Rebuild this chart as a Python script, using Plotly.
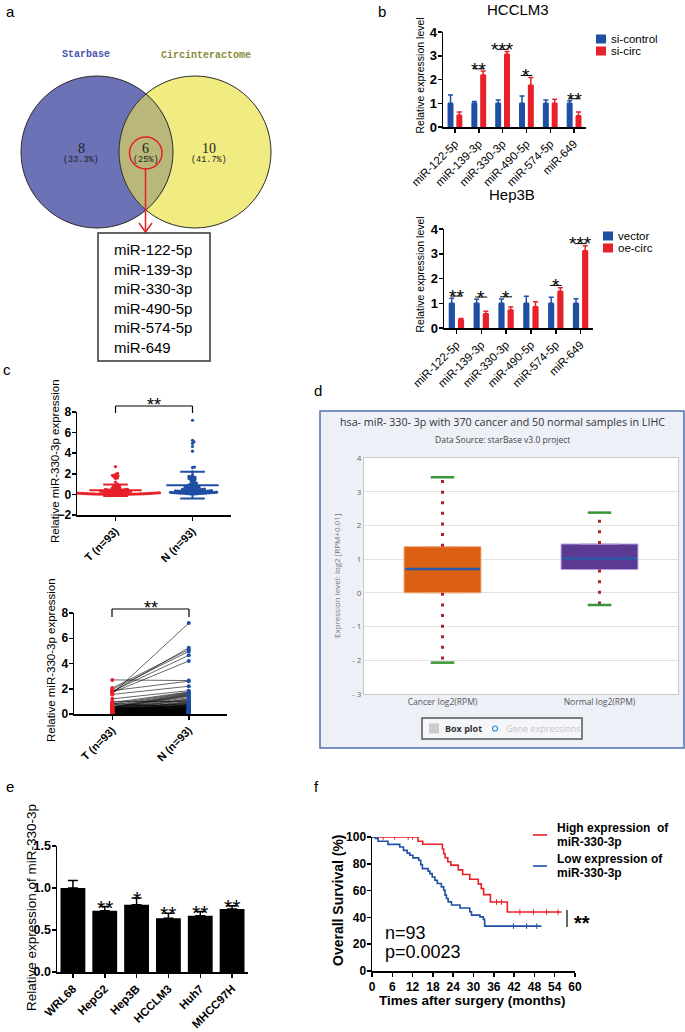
import numpy as np
import plotly.graph_objects as go

W, H = 685, 1032
ARIAL = "Liberation Sans, Arial, sans-serif"
SERIF = "Liberation Serif, Times New Roman, serif"
MONO = "Liberation Mono, Courier New, monospace"
OPEN = "Open Sans, DejaVu Sans, sans-serif"
BLUE = "#1f4fa3"
RED = "#e8202a"

# ---------------- data ----------------
venn_names = ["Starbase", "Circinteractome"]
venn_counts = [8, 6, 10]  # Starbase only, shared, Circinteractome only
overlap_mirs = ["miR-122-5p", "miR-139-3p", "miR-330-3p",
                "miR-490-5p", "miR-574-5p", "miR-649"]

hcclm3_groups = ["si-control", "si-circ"]
hcclm3_ctrl = [1.0, 1.0, 1.0, 1.0, 1.0, 1.0]
hcclm3_ctrl_err = [0.35, 0.07, 0.14, 0.30, 0.14, 0.10]
hcclm3_circ = [0.49, 2.19, 3.06, 1.76, 1.00, 0.47]
hcclm3_circ_err = [0.14, 0.17, 0.12, 0.32, 0.17, 0.16]
hcclm3_sig = ["", "**", "***", "*", "", "**"]

hep3b_groups = ["vector", "oe-circ"]
hep3b_vec = [1.0, 1.0, 1.0, 1.0, 1.0, 1.0]
hep3b_vec_err = [0.20, 0.16, 0.17, 0.28, 0.24, 0.18]
hep3b_oe = [0.35, 0.58, 0.73, 0.86, 1.48, 3.12]
hep3b_oe_err = [0.03, 0.10, 0.12, 0.20, 0.15, 0.20]
hep3b_sig = ["**", "*", "*", "", "*", "***"]

tn_labels = ["T (n=93)", "N (n=93)"]
T_expr = [2.7, 2.05, 1.95, 1.85, 1.8, 1.75, 1.7, 1.6, 1.55,
          1.2, 1.0, 0.9, 0.85, 0.8, 0.75, 0.7,
          0.6, 0.58, 0.55, 0.55, 0.52, 0.5, 0.5, 0.48, 0.45, 0.45, 0.42, 0.4, 0.4, 0.38, 0.36, 0.35, 0.34, 0.32, 0.3, 0.3,
          0.28, 0.27, 0.26, 0.25, 0.25, 0.24, 0.22, 0.21, 0.2, 0.2, 0.19, 0.18, 0.17, 0.16, 0.15, 0.15, 0.14, 0.13, 0.12, 0.12,
          0.11, 0.1, 0.1, 0.09, 0.09, 0.08, 0.08, 0.07, 0.07, 0.06, 0.06, 0.06, 0.05, 0.05, 0.05, 0.04, 0.04, 0.04, 0.03, 0.03,
          0.03, 0.03, 0.02, 0.02, 0.02, 0.02, 0.02, 0.01, 0.01, 0.01, 0.01, 0.01, 0.01, 0.01, 0.01, 0.01, 0.01]
N_expr = [2.65, 5.1, 4.95, 2.6, 4.65, 5.25, 4.2, 7.2, 2.2,
          1.85, 1.0, 1.75, 0.5, 1.7, 0.3, 1.65,
          1.6, 0.8, 1.55, 0.2, 1.5, 0.45, 1.45, 0.1, 1.4, 0.62, 1.3, 0.25, 1.2, 0.38,
          1.15, 0.72, 1.1, 0.15, 1.0, 0.55, 0.95, 0.28, 0.9, 0.4, 0.85, 0.12,
          0.78, 0.75, 0.7, 0.68, 0.65, 0.6, 0.58, 0.52, 0.5, 0.48, 0.46, 0.44, 0.42, 0.4,
          0.37, 0.36, 0.35, 0.34, 0.33, 0.32, 0.31, 0.3, 0.29, 0.27, 0.26, 0.25, 0.24, 0.23,
          0.22, 0.22, 0.21, 0.2, 0.19, 0.18, 0.18, 0.17, 0.16, 0.15, 0.14, 0.13, 0.12, 0.11,
          0.1, 0.09, 0.08, 0.08, 0.07, 0.06, 0.05, 0.04, 0.03]

tcga_title = "hsa- miR- 330- 3p with 370 cancer and 50 normal samples in LIHC"
tcga_source = "Data Source: starBase v3.0 project"
tcga_groups = ["Cancer log2(RPM)", "Normal log2(RPM)"]
tcga_q1 = [0.0, 0.69]
tcga_med = [0.71, 1.02]
tcga_q3 = [1.37, 1.45]
tcga_lo = [-2.07, -0.36]
tcga_hi = [3.43, 2.38]
tcga_fill = ["#dc6013", "#5b3a94"]
tcga_edge = ["#f0a878", "#b9a5dc"]
tcga_yticks = [-3, -2, -1, 0, 1, 2, 3, 4]
tcga_yticktext = ["- 3", "- 2", "- 1", "0", "1", "2", "3", "4"]

cell_lines = ["WRL68", "HepG2", "Hep3B", "HCCLM3", "Huh7", "MHCC97H"]
cell_expr = [1.0, 0.73, 0.80, 0.64, 0.67, 0.75]
cell_err = [0.09, 0.05, 0.08, 0.06, 0.05, 0.04]
cell_sig = ["", "**", "*", "**", "**", "**"]

km_high_t = [0, 13.6, 15.0, 20.8, 21.2, 21.6, 22.4, 23.3, 25.5, 26.8, 28.9, 31.4, 32.3, 33.0, 35.0, 40.0, 56.0]
km_high_s = [100, 96.8, 94.6, 91.0, 87.5, 84.5, 81.5, 79.0, 75.5, 72.0, 68.5, 65.0, 61.5, 57.0, 51.5, 44.0, 44.0]
km_high_cens = [1.8, 3.3, 6.7, 10.7, 12.0, 36.8, 38.3, 43.7, 47.7, 51.6, 55.0]
km_low_t = [0, 1.0, 1.8, 4.7, 8.2, 9.3, 10.4, 11.2, 12.1, 13.8, 14.4, 14.9, 16.6, 17.1, 17.8, 18.6, 19.3, 20.5,
            21.2, 21.6, 22.0, 22.5, 23.5, 26.0, 28.9, 29.4, 31.9, 32.9, 33.3, 50.1]
km_low_s = [100, 99.0, 96.8, 94.5, 92.5, 90.0, 88.0, 86.4, 84.4, 82.6, 79.4, 76.4, 74.5, 72.7, 70.2, 67.7, 65.3, 62.8,
            60.3, 56.6, 54.1, 51.6, 49.2, 47.0, 44.2, 41.7, 40.4, 38.5, 33.5, 33.5]
km_low_cens = [41.8, 45.7, 48.7]
km_labels = ["High expression  of<br>miR-330-3p", "Low expression of<br>miR-330-3p"]
km_n = 93
km_p = "0.0023"

# ---------------- helpers ----------------
fig = go.Figure()
ann, shp, axes = [], [], {}


def txt(x, y, s, size=12, color="black", weight="normal", family=ARIAL, xa="center", ya="middle",
        angle=0, align="center", xref="paper", yref="paper", yshift=0):
    if xref == "paper":
        x = x / W
    if yref == "paper":
        y = 1 - y / H
    ann.append(dict(x=x, y=y, xref=xref, yref=yref, text=s, showarrow=False,
                    font=dict(family=family, size=size, color=color, weight=weight),
                    xanchor=xa, yanchor=ya, textangle=angle, align=align, yshift=yshift))


def star(x, y, s, size, xref="paper", yref="paper"):
    # place glyph bottom at y
    txt(x, y, s, size=size, ya="bottom", xref=xref, yref=yref, yshift=-(0.62 * size + 1))


def pline(x0, y0, x1, y1, color="black", width=1.2):
    shp.append(dict(type="line", xref="paper", yref="paper", x0=x0 / W, x1=x1 / W,
                    y0=1 - y0 / H, y1=1 - y1 / H, line=dict(color=color, width=width)))


def prect(x0, y0, x1, y1, fill, line_color=None, lw=0, layer="above"):
    shp.append(dict(type="rect", xref="paper", yref="paper", x0=x0 / W, x1=x1 / W,
                    y0=1 - y1 / H, y1=1 - y0 / H, fillcolor=fill, layer=layer,
                    line=dict(color=line_color or fill, width=lw)))


def add_axes(n, xpx, ypx, xkw, ykw):
    sx = "" if n == 1 else str(n)
    axes["xaxis" + sx] = dict(domain=[xpx[0] / W, xpx[1] / W], anchor="y" + sx, automargin=False, **xkw)
    axes["yaxis" + sx] = dict(domain=[1 - ypx[1] / H, 1 - ypx[0] / H], anchor="x" + sx, automargin=False, **ykw)


def gp(**kw):
    d = dict(showline=True, linecolor="black", linewidth=1.5, ticks="outside", ticklen=4,
             tickwidth=1.5, tickcolor="black", showgrid=False, zeroline=False, fixedrange=True,
             tickfont=dict(family=ARIAL, size=12, color="black", weight="bold"))
    d.update(kw)
    return d


def swarm(vals, ppy, ppx, dmin=2.2, step=0.5):
    vals = np.asarray(vals, float)
    order = np.argsort(vals, kind="stable")
    placed = []
    off = np.zeros(len(vals))
    for i in order:
        y = vals[i] * ppy
        k = 0
        while True:
            m = (k + 1) // 2
            x = m * step * (1 if k % 2 else -1)
            ok = True
            for (qx, qy) in placed:
                dy = abs(qy - y)
                if dy < dmin and abs(qx - x) < np.sqrt(dmin ** 2 - dy ** 2):
                    ok = False
                    break
            if ok:
                break
            k += 1
        placed.append((x, y))
        off[i] = x / ppx
    return off


# ---------------- panel labels ----------------
for lab, (lx, ly) in zip("abcdef", [(10, 11), (382, 11), (7, 370), (318, 390), (10, 786), (316, 786)]):
    txt(lx, ly, lab, size=15)

# ---------------- panel a: Venn ----------------
add_axes(1, (0, 310), (30, 370), dict(range=[0, 310], visible=False, fixedrange=True),
         dict(range=[370, 30], visible=False, fixedrange=True))
cx1, cx2, cy, r = 97, 195, 152, 76
for (cx, col) in [(cx1, "#6b72b5"), (cx2, "#f0ec82")]:
    shp.append(dict(type="circle", xref="x", yref="y", x0=cx - r, x1=cx + r, y0=cy - r, y1=cy + r,
                    fillcolor=col, line=dict(width=0)))
th = np.arccos((cx2 - cx1) / 2 / r)
a1 = np.linspace(-th, th, 50)
lx = np.concatenate([cx1 + r * np.cos(a1), cx2 - r * np.cos(a1[::-1])])
ly = np.concatenate([cy + r * np.sin(a1), cy + r * np.sin(a1[::-1])])
path = "M " + " L ".join(f"{a:.2f},{b:.2f}" for a, b in zip(lx, ly)) + " Z"
shp.append(dict(type="path", xref="x", yref="y", path=path, fillcolor="#bab77b", line=dict(width=0)))
for cx in (cx1, cx2):
    shp.append(dict(type="circle", xref="x", yref="y", x0=cx - r, x1=cx + r, y0=cy - r, y1=cy + r,
                    line=dict(color="#2a2a2a", width=1)))
total = sum(venn_counts)
pct = [f"({100 * c / total:.1f}%)".replace(".0%", "%") for c in venn_counts]
for (x, c, p) in zip([81, 145.5, 209], venn_counts, pct):
    txt(x, 148, str(c), size=14, family=SERIF, color="#222")
    txt(x, 160, p, size=8.5, family=MONO, color="#222")
txt(86, 55, venn_names[0], size=10, family=MONO, color="#4a56b0", weight="bold")
txt(206, 56, venn_names[1], size=10, family=MONO, color="#8a8a3a", weight="bold")
shp.append(dict(type="circle", xref="x", yref="y", x0=129.5, x1=162, y0=137, y1=169,
                line=dict(color="#e21f26", width=1.5)))
shp.append(dict(type="line", xref="x", yref="y", x0=145.5, x1=145.5, y0=169, y1=232,
                line=dict(color="#e21f26", width=1.5)))
shp.append(dict(type="path", xref="x", yref="y", path="M 139,223 L 145.5,232 L 152,223",
                line=dict(color="#e21f26", width=1.5)))
prect(98, 233, 210, 361, "rgba(0,0,0,0)", "#333333", 1.5)
txt(112, 298, "<br>".join(overlap_mirs), size=15, xa="left", align="left")

# ---------------- panel b: grouped bars ----------------
def bar_panel(n, xpx, ypx, ctrl, ctrl_err, trt, trt_err, sig, title, tpos, groups, legpos):
    sx = str(n)
    add_axes(n, xpx, ypx,
             gp(range=[-0.5, 5.5], tickvals=list(range(6)), ticktext=overlap_mirs, tickangle=-45,
                tickfont=dict(family=ARIAL, size=11.5, color="black")),
             gp(range=[0, 4], dtick=1, ticklabelstandoff=-2,
                tickfont=dict(family=ARIAL, size=13, color="black", weight="bold")))
    xs = list(range(6))
    for vals, errs, col, off in [(ctrl, ctrl_err, BLUE, -0.31), (trt, trt_err, RED, 0.06)]:
        fig.add_trace(go.Bar(x=xs, y=vals, width=0.25, offset=off, marker=dict(color=col, line=dict(width=0)),
                             error_y=dict(type="data", symmetric=False, array=errs, arrayminus=[0] * 6,
                                          color=col, thickness=1.5, width=2.5),
                             xaxis="x" + sx, yaxis="y" + sx, showlegend=False, hoverinfo="skip"))
    for i, s in enumerate(sig):
        if s:
            top = max(ctrl[i] + ctrl_err[i], trt[i] + trt_err[i]) + 0.09
            shp.append(dict(type="line", xref="x" + sx, yref="y" + sx, x0=i - 0.24, x1=i + 0.24, y0=top, y1=top,
                            line=dict(color="black", width=1)))
            star(i, top, s, 19, xref="x" + sx, yref="y" + sx)
    txt(tpos[0], tpos[1], title, size=15)
    txt(xpx[0] - 24, (ypx[0] + ypx[1]) / 2 - 4, "Relative expression level", size=10.5, angle=-90)
    lx0, ly0 = legpos
    for k, (g, col) in enumerate(zip(groups, [BLUE, RED])):
        yy = ly0 + 12 * k
        prect(lx0, yy - 4.5, lx0 + 10, yy + 4.5, col)
        txt(lx0 + 13, yy, g, size=11.5, xa="left")


bar_panel(2, (443, 586), (32, 127), hcclm3_ctrl, hcclm3_ctrl_err, hcclm3_circ, hcclm3_circ_err,
          hcclm3_sig, "HCCLM3", (518, 9), hcclm3_groups, (596, 39))
bar_panel(3, (444, 593), (229, 328), hep3b_vec, hep3b_vec_err, hep3b_oe, hep3b_oe_err,
          hep3b_sig, "Hep3B", (512, 194), hep3b_groups, (603, 236))

# ---------------- panel c top: scatter with mean +/- SD ----------------
add_axes(4, (77, 231), (412, 515),
         gp(range=[-0.5, 1.5], tickvals=[0, 1], ticktext=tn_labels, tickangle=-45,
            tickfont=dict(family=ARIAL, size=11, color="black", weight="bold")),
         gp(range=[-2, 8], dtick=2, ticklabelstandoff=-2))
ppy = (515 - 412) / 10.0
for k, (vals, col) in enumerate([(T_expr, RED), (N_expr, BLUE)]):
    off = swarm(vals, ppy, 77.0, dmin=1.9)
    fig.add_trace(go.Scatter(x=k + off, y=vals, mode="markers", marker=dict(color=col, size=3.2),
                             xaxis="x4", yaxis="y4", showlegend=False, hoverinfo="skip"))
    m, sd = float(np.mean(vals)), float(np.std(vals, ddof=1))
    xx = [k - 0.34, k + 0.34, None, k, k, None, k - 0.16, k + 0.16, None, k - 0.16, k + 0.16]
    yy = [m, m, None, m - sd, m + sd, None, m + sd, m + sd, None, m - sd, m - sd]
    fig.add_trace(go.Scatter(x=xx, y=yy, mode="lines", line=dict(color=col, width=2),
                             xaxis="x4", yaxis="y4", showlegend=False, hoverinfo="skip"))
pline(115.5, 406, 192.5, 406)
pline(115.5, 406, 115.5, 413)
pline(192.5, 406, 192.5, 413)
star(154, 405, "**", 18)
txt(55, 461, "Relative miR-330-3p expression", size=11.5, angle=-90)

# ---------------- panel c bottom: paired lines ----------------
add_axes(5, (74, 227), (613, 714),
         gp(range=[-0.5, 1.5], tickvals=[0, 1], ticktext=tn_labels, tickangle=-45,
            tickfont=dict(family=ARIAL, size=11, color="black", weight="bold")),
         gp(range=[0, 8], dtick=2, ticklabelstandoff=-2))
px_, py_ = [], []
for a, b in zip(T_expr, N_expr):
    px_ += [0, 1, None]
    py_ += [a, b, None]
fig.add_trace(go.Scatter(x=px_, y=py_, mode="lines", line=dict(color="black", width=0.6),
                         xaxis="x5", yaxis="y5", showlegend=False, hoverinfo="skip"))
fig.add_trace(go.Scatter(x=[0] * len(T_expr), y=T_expr, mode="markers", marker=dict(color=RED, size=4),
                         xaxis="x5", yaxis="y5", showlegend=False, hoverinfo="skip"))
fig.add_trace(go.Scatter(x=[1] * len(N_expr), y=N_expr, mode="markers", marker=dict(color=BLUE, size=4),
                         xaxis="x5", yaxis="y5", showlegend=False, hoverinfo="skip"))
pline(112, 609, 189, 609)
pline(112, 609, 112, 617)
pline(189, 609, 189, 617)
star(150.5, 608, "**", 18)
txt(51, 660, "Relative miR-330-3p expression", size=11.5, angle=-90)

# ---------------- panel d: starBase box plot ----------------
prect(320, 411, 684, 748, "#eef0f8", "#4d6fae", 1.5, layer="below")
prect(364, 458, 678, 694, "white", layer="below")
add_axes(6, (364, 678), (458, 694),
         dict(range=[-0.5, 1.5], tickvals=[0, 1], ticktext=tcga_groups, showline=True, mirror=True,
              linecolor="#c8c8c8", linewidth=1, ticks="", showgrid=False, zeroline=False, fixedrange=True,
              tickfont=dict(family=OPEN, size=8.5, color="#555")),
         dict(range=[-3, 4], tickvals=tcga_yticks, ticktext=tcga_yticktext, showline=True, mirror=True,
              linecolor="#c8c8c8", linewidth=1, ticks="", showgrid=True, gridcolor="#e2e2e2", zeroline=False,
              fixedrange=True, tickfont=dict(family=OPEN, size=8, color="#666")))
for k in range(2):
    fig.add_trace(go.Scatter(x=[k, k], y=[tcga_q3[k], tcga_hi[k]], mode="lines",
                             line=dict(color="#a0282a", width=3, dash="3px,7.6px"),
                             xaxis="x6", yaxis="y6", showlegend=False, hoverinfo="skip"))
    fig.add_trace(go.Scatter(x=[k, k], y=[tcga_q1[k], tcga_lo[k]], mode="lines",
                             line=dict(color="#a0282a", width=3, dash="3px,7.6px"),
                             xaxis="x6", yaxis="y6", showlegend=False, hoverinfo="skip"))
    fig.add_trace(go.Box(x=[k], q1=[tcga_q1[k]], median=[tcga_med[k]], q3=[tcga_q3[k]],
                         lowerfence=[tcga_q1[k]], upperfence=[tcga_q3[k]], width=0.49,
                         fillcolor=tcga_fill[k], line=dict(color=tcga_edge[k], width=1),
                         xaxis="x6", yaxis="y6", showlegend=False, hoverinfo="skip"))
    fig.add_trace(go.Scatter(x=[k - 0.24, k + 0.24], y=[tcga_med[k]] * 2, mode="lines",
                             line=dict(color="#2a5aa8", width=2.5),
                             xaxis="x6", yaxis="y6", showlegend=False, hoverinfo="skip"))
    for v in (tcga_lo[k], tcga_hi[k]):
        fig.add_trace(go.Scatter(x=[k - 0.075, k + 0.075], y=[v, v], mode="lines",
                                 line=dict(color="#3a943a", width=2.5),
                                 xaxis="x6", yaxis="y6", showlegend=False, hoverinfo="skip"))
txt(502, 422, tcga_title, size=10.7, family=OPEN, color="#333")
txt(502, 439, tcga_source, size=8.5, family=OPEN, color="#444")
txt(336, 576, "Expression level: log2 [RPM+0.01]", size=8, family=OPEN, color="#777", angle=-90)
prect(422, 718, 582, 739, "#f5f6fa", "#555555", 1.5)
prect(429, 723.5, 439, 733.5, "#cccccc")
txt(443, 728.5, "Box plot", size=9, family=OPEN, color="#333", weight="bold", xa="left")
shp.append(dict(type="circle", xref="paper", yref="paper", x0=492.5 / W, x1=497.5 / W,
                y0=1 - 731 / H, y1=1 - 726 / H, line=dict(color="#3a8ed0", width=1.2)))
txt(504, 728.5, "Gene expressions", size=9, family=OPEN, color="#c4c4c4", xa="left")

# ---------------- panel e: cell lines ----------------
add_axes(7, (57, 248), (846, 972),
         gp(range=[-0.5, 5.5], tickvals=list(range(6)), ticktext=cell_lines, tickangle=-45,
            tickfont=dict(family=ARIAL, size=11.5, color="black", weight="bold")),
         gp(range=[0, 1.5], dtick=0.5, tickformat=".1f", ticklabelstandoff=-2,
            tickfont=dict(family=ARIAL, size=12.5, color="black", weight="bold")))
fig.add_trace(go.Bar(x=list(range(6)), y=cell_expr, width=0.78, offset=-0.39,
                     marker=dict(color="black", line=dict(width=0)),
                     error_y=dict(type="data", symmetric=False, array=cell_err, arrayminus=[0] * 6,
                                  color="black", thickness=1.5, width=5),
                     xaxis="x7", yaxis="y7", showlegend=False, hoverinfo="skip"))
for i, s in enumerate(cell_sig):
    if s:
        star(i, cell_expr[i] + cell_err[i], s, 21, xref="x7", yref="y7")
txt(31, 908, "Relative expression of miR-330-3p", size=13.5, angle=-90)

# ---------------- panel f: Kaplan-Meier ----------------
add_axes(8, (372, 575), (837, 971),
         gp(range=[0, 60], dtick=6, tickfont=dict(family=ARIAL, size=12, color="black", weight="bold")),
         gp(range=[0, 100], dtick=20, ticklabelstandoff=-2,
            tickfont=dict(family=ARIAL, size=12, color="black", weight="bold")))


def surv_at(ts, ss, t):
    s = ss[0]
    for a, b in zip(ts, ss):
        if a <= t:
            s = b
    return s


for ts, ss, cens, col in [(km_high_t, km_high_s, km_high_cens, RED), (km_low_t, km_low_s, km_low_cens, BLUE)]:
    fig.add_trace(go.Scatter(x=ts, y=ss, mode="lines", line=dict(color=col, width=1.6, shape="hv"),
                             xaxis="x8", yaxis="y8", showlegend=False, hoverinfo="skip"))
    fig.add_trace(go.Scatter(x=cens, y=[surv_at(ts, ss, c) for c in cens], mode="markers",
                             marker=dict(symbol="line-ns", size=4, line=dict(color=col, width=1)),
                             xaxis="x8", yaxis="y8", showlegend=False, hoverinfo="skip"))
txt(338, 900, "Overall Survival (%)", size=14, weight="bold", angle=-90)
txt(473, 1000, "Times after surgery (months)", size=13.5, weight="bold")
for k, (lab, col) in enumerate(zip(km_labels, [RED, BLUE])):
    yc = 835 + 31 * k
    pline(533, yc, 547, yc, col, 1.6)
    l1, l2 = lab.split("<br>")
    txt(555, yc - 7, l1, size=12, weight="bold", xa="left")
    txt(555, yc + 7, l2, size=12, weight="bold", xa="left")
pline(567, 910, 567, 927, "black", 1.2)
txt(572, 923, "**", size=20, weight="bold", xa="left")
txt(383, 933, f"n={km_n}", size=18, xa="left")
txt(383, 952, f"p={km_p}", size=18, xa="left")

fig.update_layout(template="none", width=W, height=H, margin=dict(l=0, r=0, t=0, b=0, pad=0),
                  autosize=False, paper_bgcolor="white",
                  plot_bgcolor="white", showlegend=False, barmode="overlay",
                  annotations=ann, shapes=shp, **axes)
fig.write_html("out.html", config={"displayModeBar": False, "staticPlot": True},
               post_script="document.body.style.margin='0';document.body.style.overflow='hidden';")
